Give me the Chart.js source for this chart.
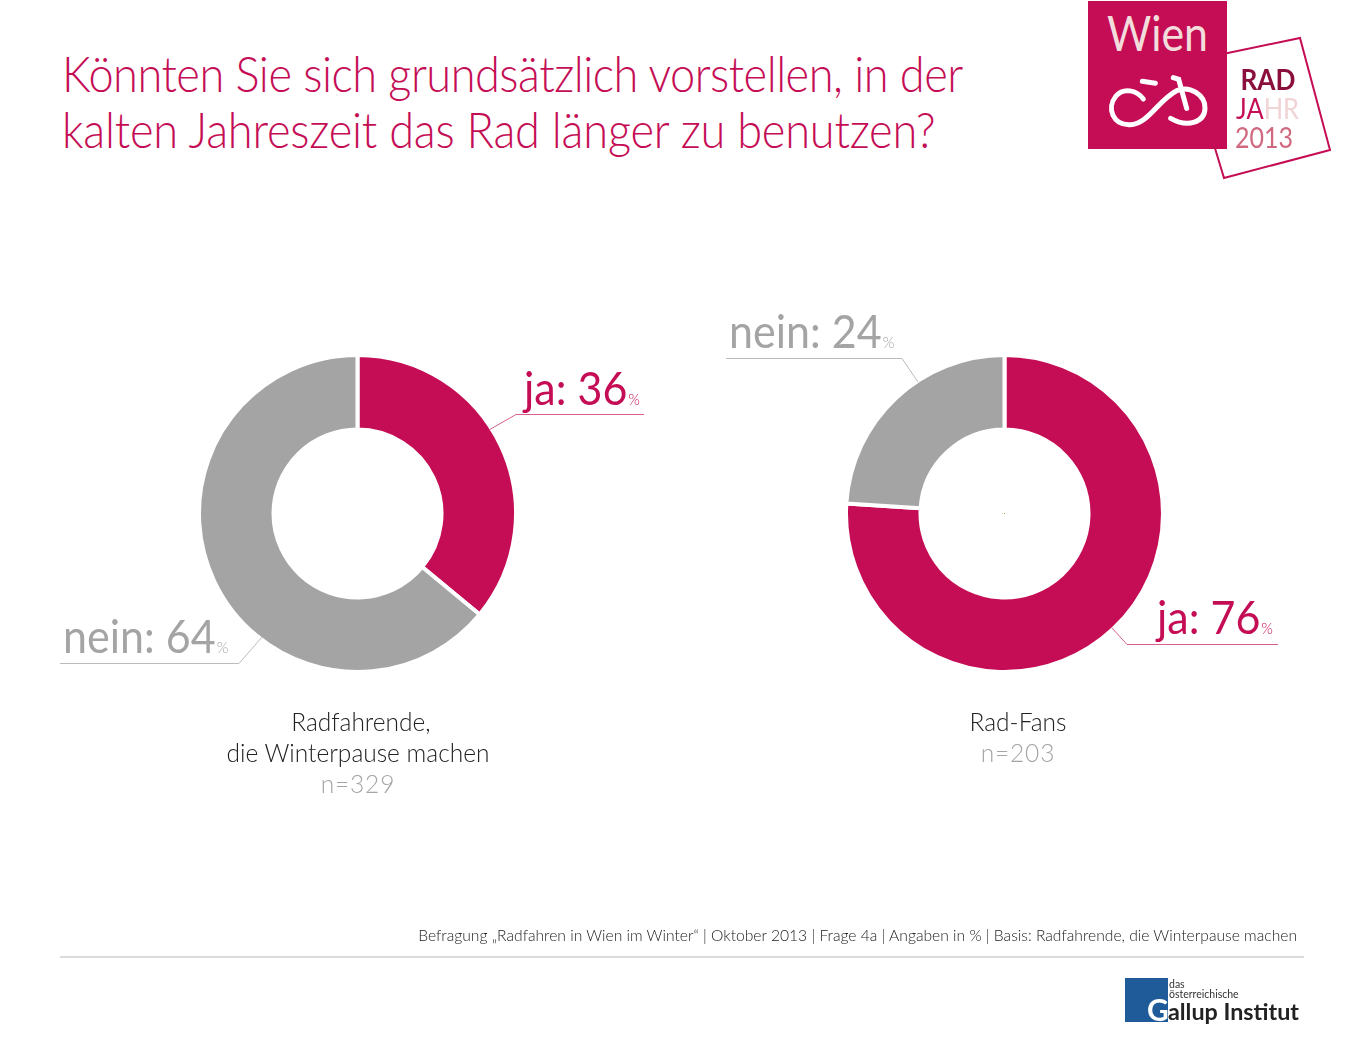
<!DOCTYPE html>
<html lang="de">
<head>
<meta charset="utf-8">
<title>Rad länger benutzen</title>
<script src="https://cdn.jsdelivr.net/npm/chart.js@4"></script>
<style>
    html, body { margin: 0; padding: 0; background: #fff; }
    #page { position: relative; width: 1360px; height: 1049px; overflow: hidden; font-family: Lato, sans-serif; font-weight: 300; }
    #page > div, #page > svg { position: absolute; white-space: nowrap; }
    .title { left: 62px; font-size: 50px; line-height: 56px; color: #c50d55; font-weight: 300; letter-spacing: -0.55px; transform: scaleX(0.903); transform-origin: left top; }
    .title span { letter-spacing: -0.22px; }
    .pie { width: 321px; height: 321px; top: 353px; }
    .big { font-size: 46px; line-height: 50px; font-weight: 400; transform: scaleX(0.935); transform-origin: left top; }
    .big small { font-size: 16px; font-weight: 300; margin-left: 1px; }
    .red { color: #c50d55; }
    .grey { color: #a4a4a4; }
    .sub { font-size: 24.5px; line-height: 31px; text-align: center; color: #222; width: 400px; }
    .sub span { color: #a4a4a4; letter-spacing: 0.8px; }
    .sub b { font-weight: 300; position: relative; left: 3px; }
    .foot { right: 63px; top: 925px; font-size: 15.65px; line-height: 20px; color: #222; }
</style>
</head>
<body>
<div id="page">
    <div class="title" style="top:45px">Könnten Sie sich grundsätzlich vorstellen, in der<br><span>kalten Jahreszeit das Rad länger zu benutzen?</span></div>

    <div class="pie" style="left:197px"><canvas id="chartWinterpause"></canvas></div>
    <div class="pie" style="left:844px"><canvas id="chartFans"></canvas></div>

    <svg width="1360" height="1049" style="left:0;top:0" fill="none" stroke-width="1">
        <polyline points="489,430 516,414.5 644,414.5" stroke="#d9608c"/>
        <polyline points="262,637 239,663.5 60,663.5" stroke="#bbb"/>
        <polyline points="918,382 902,358.5 726,358.5" stroke="#bbb"/>
        <polyline points="1112,628 1127,644.5 1278,644.5" stroke="#d9608c"/>
        <line x1="60" y1="957" x2="1304" y2="957" stroke="#cfcfcf" stroke-width="1.5"/>

        <!-- Wien logo -->
        <polygon points="1223,54 1300,38 1330,150 1224,178 1214,145" stroke="#c50d55" stroke-width="2"/>
        <rect x="1088" y="1" width="139" height="148" fill="#c50d55"/>
        <text x="1107" y="51" font-family="Lato" font-size="48" fill="#f3dcdc" stroke="none" font-weight="400" textLength="101" lengthAdjust="spacingAndGlyphs">Wien</text>
        <g transform="translate(1080,0) scale(0.3333)" stroke="#fff" stroke-width="15" stroke-linecap="round">
            <path d="M190 297C170 270 130 262 108 288C78 325 100 376 150 374C205 372 235 300 290 272C330 255 376 285 375 325C374 365 325 385 272 355"/>
            <path d="M280 233L296 238L320 325"/>
            <path d="M187 244L226 250"/>
        </g>
        <g font-family="Lato" font-size="28" stroke="none" font-weight="700">
            <text x="1240.5" y="90" fill="#8a0f3c" textLength="55" lengthAdjust="spacingAndGlyphs">RAD</text>
            <text x="1236" y="119" fill="#c50d55" font-weight="400" textLength="63" lengthAdjust="spacingAndGlyphs">JA<tspan fill="#f0d4d6">HR</tspan></text>
            <text x="1235" y="148" fill="#d0697f" font-weight="400" textLength="58" lengthAdjust="spacingAndGlyphs">2013</text>
        </g>

        <!-- Gallup logo -->
        <rect x="1125" y="978" width="43" height="44" fill="#1f5a99"/>
        <g stroke="none" font-family="Lato">
            <text x="1169" y="988" font-size="10.5" fill="#333" font-weight="400">das</text>
            <text x="1169" y="998" font-size="10.5" fill="#333" font-weight="400">österreichische</text>
            <text x="1147" y="1021" font-size="30" fill="#fff" font-weight="700">G</text>
            <text x="1168" y="1020" font-size="23.5" fill="#222" font-weight="700" textLength="131" lengthAdjust="spacingAndGlyphs">allup Institut</text>
        </g>
        <rect x="1004" y="513" width="1" height="1" fill="#a89a20"/>
    </svg>

    <div class="big red" id="labelJa1" style="left:524px;top:363px"></div>
    <div class="big grey" id="labelNein1" style="left:63px;top:611px"></div>
    <div class="big grey" id="labelNein2" style="left:729px;top:306px"></div>
    <div class="big red" id="labelJa2" style="left:1157px;top:592px"></div>

    <div class="sub" style="left:158px;top:706px"><b>Radfahrende,</b><br>die Winterpause machen<br><span id="n1"></span></div>
    <div class="sub" style="left:818px;top:706px">Rad-Fans<br><span id="n2"></span></div>

    <div class="foot">Befragung „Radfahren in Wien im Winter“ | Oktober 2013 | Frage 4a | Angaben in % | Basis: Radfahrende, die Winterpause machen</div>
</div>

<script>
// Answers and the two groups asked
const answers = ['ja', 'nein'];
const winterpauseValues = [36, 64];
const fansValues = [76, 24];
const winterpauseN = 329;
const fansN = 203;
const answerColors = ['#c50d55', '#a4a4a4'];

function drawDonut(id, values) {
    new Chart(document.getElementById(id), {
        type: 'doughnut',
        data: {
            labels: answers,
            datasets: [{
                data: values,
                backgroundColor: answerColors,
                borderColor: '#fff',
                borderWidth: 4,
                borderAlign: 'center'
            }]
        },
        options: {
            responsive: true,
            maintainAspectRatio: false,
            animation: false,
            cutout: '53%',
            plugins: { legend: { display: false }, tooltip: { enabled: false } }
        }
    });
}

function setLabel(id, answer, value) {
    document.getElementById(id).innerHTML = `${answer}: ${value}<small>%</small>`;
}

drawDonut('chartWinterpause', winterpauseValues);
drawDonut('chartFans', fansValues);

setLabel('labelJa1', answers[0], winterpauseValues[0]);
setLabel('labelNein1', answers[1], winterpauseValues[1]);
setLabel('labelJa2', answers[0], fansValues[0]);
setLabel('labelNein2', answers[1], fansValues[1]);
document.getElementById('n1').textContent = 'n=' + winterpauseN;
document.getElementById('n2').textContent = 'n=' + fansN;
</script>
</body>
</html>
